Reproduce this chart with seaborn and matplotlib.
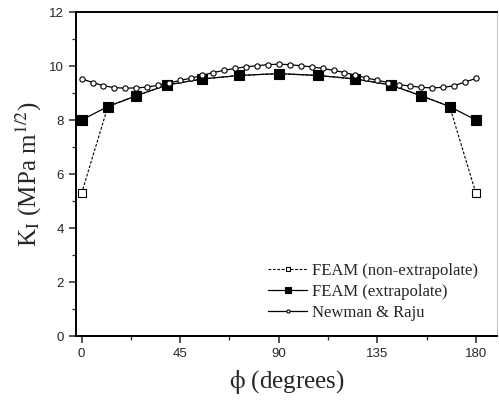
import matplotlib
matplotlib.use('Agg')
import matplotlib.pyplot as plt
import seaborn as sns
import pandas as pd
from matplotlib.ticker import MultipleLocator

# FEAM results (extrapolated / non-extrapolated at the free surface)
phi_feam = [0, 12, 25, 39, 55, 72, 90, 108, 125, 141, 155, 168, 180]
k_extrap = [8.0, 8.5, 8.9, 9.3, 9.52, 9.65, 9.72, 9.65, 9.52, 9.3, 8.9, 8.5, 8.0]
k_nonextrap = [5.28, 8.5, 8.9, 9.3, 9.52, 9.65, 9.72, 9.65, 9.52, 9.3, 8.9, 8.5, 5.28]

# Newman & Raju solution
phi_nr = [0, 5, 10, 15, 20, 25, 30, 35, 40, 45, 50, 55, 60, 65, 70, 75, 80, 85, 90,
          95, 100, 105, 110, 115, 120, 125, 130, 135, 140, 145, 150, 155, 160, 165,
          170, 175, 180]
k_nr = [9.53, 9.39, 9.27, 9.20, 9.18, 9.19, 9.22, 9.29, 9.37, 9.47, 9.55, 9.65, 9.76,
        9.84, 9.91, 9.97, 10.01, 10.05, 10.07, 10.05, 10.01, 9.97, 9.91, 9.84, 9.76,
        9.66, 9.56, 9.47, 9.39, 9.31, 9.26, 9.21, 9.19, 9.21, 9.27, 9.41, 9.54]

sns.set_style('ticks')
plt.rcParams['mathtext.fontset'] = 'stix'

fig = plt.figure(figsize=(4.99, 4.01), dpi=100)
ax = fig.add_axes([0.152, 0.162, 0.844, 0.808])

feam = pd.DataFrame({'phi': phi_feam, 'ext': k_extrap, 'non': k_nonextrap})
nr = pd.DataFrame({'phi': phi_nr, 'k': k_nr})

sns.lineplot(data=feam, x='phi', y='non', ax=ax, sort=False, color='black',
             linestyle=(0, (2.5, 1.5)), linewidth=0.8, marker='s', markersize=5.5,
             markerfacecolor='white', markeredgecolor='black', markeredgewidth=0.8,
             label='FEAM (non-extrapolate)')
sns.lineplot(data=feam, x='phi', y='ext', ax=ax, sort=False, color='black',
             linewidth=0.9, marker='s', markersize=6.5,
             markerfacecolor='black', markeredgecolor='black', markeredgewidth=0.8,
             label='FEAM (extrapolate)')
sns.lineplot(data=nr, x='phi', y='k', ax=ax, sort=False, color='black',
             linewidth=0.9, marker='o', markersize=3.8,
             markerfacecolor='white', markeredgecolor='black', markeredgewidth=0.8,
             label='Newman & Raju')

ax.set_xlim(-2.6, 189.6)
ax.set_ylim(0, 12)
ax.xaxis.set_major_locator(MultipleLocator(45))
ax.xaxis.set_minor_locator(MultipleLocator(22.5))
ax.yaxis.set_major_locator(MultipleLocator(2))
ax.yaxis.set_minor_locator(MultipleLocator(1))
ax.tick_params(which='major', direction='out', length=5, width=1.1, labelsize=9.5,
               top=False, right=False)
ax.tick_params(which='minor', direction='out', length=3, width=0.9,
               top=False, right=False)
for lab in ax.get_xticklabels() + ax.get_yticklabels():
    lab.set_family('Liberation Sans')

for side in ['left', 'bottom', 'top']:
    ax.spines[side].set_visible(True)
    ax.spines[side].set_linewidth(1.4)
    ax.spines[side].set_color('black')
ax.spines['right'].set_color('#c8c8c8')
ax.spines['right'].set_linewidth(0.8)

ax.set_xlabel(r'$\mathrm{\phi}$ (degrees)', family='Liberation Serif', fontsize=18,
              labelpad=6)
ax.set_ylabel(r'K$_\mathrm{I}$ (MPa m$^{1/2}$)', family='Liberation Serif',
              fontsize=18, labelpad=4)

leg = ax.legend(loc='lower right', bbox_to_anchor=(0.99, 0.0), frameon=False,
                handlelength=2.3, handletextpad=0.3, labelspacing=0.3,
                markerscale=0.6, prop={'family': 'Liberation Serif', 'size': 12})

fig.savefig('out.png', dpi=100)
